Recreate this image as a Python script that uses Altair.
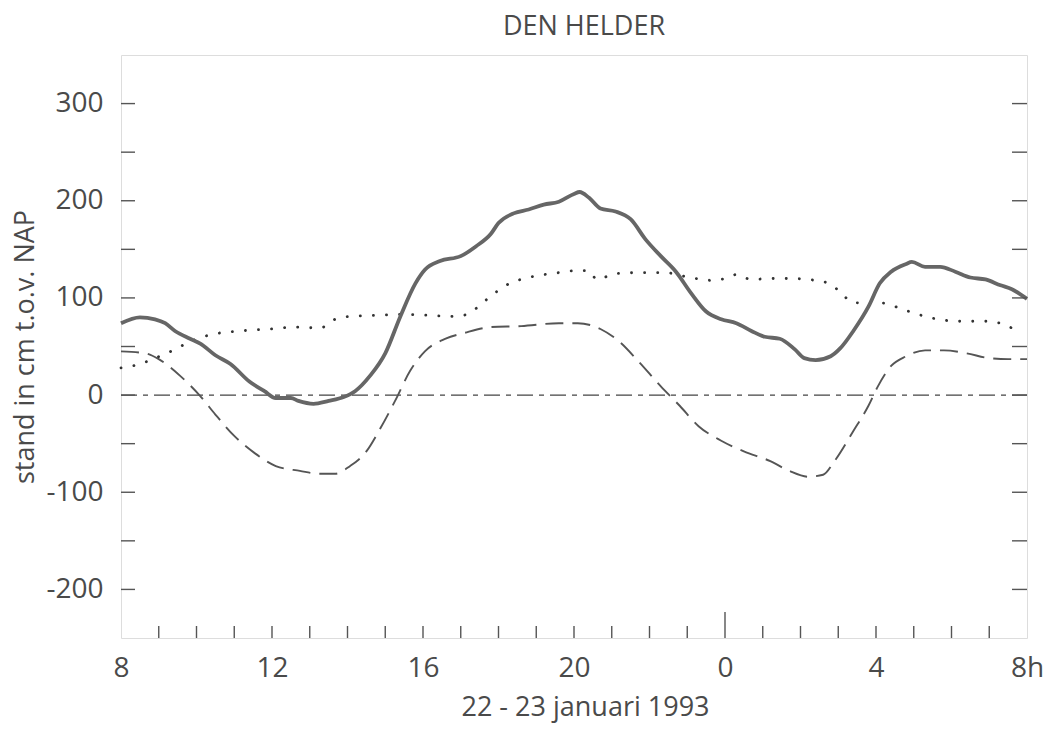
import altair as alt
import pandas as pd

# hours after 22 jan 08:00
obs_h = [0, 0.5, 0.9, 1.17, 1.43, 1.83, 2.1, 2.5, 2.9, 3.4, 3.8, 4.1, 4.5, 4.7, 5.1, 5.5, 5.9, 6.2,
         6.6, 7.0, 7.4, 7.8, 8.05, 8.45, 9.0, 9.4, 9.8, 10.0, 10.4, 10.8, 11.2, 11.6, 12.0, 12.15,
         12.4, 12.7, 13.1, 13.5, 13.9, 14.3, 14.7, 15.1, 15.5, 15.9, 16.3, 16.7, 17.05, 17.45,
         17.85, 18.1, 18.4, 18.8, 19.05, 19.4, 19.8, 20.1, 20.4, 20.8, 20.95, 21.3, 21.7, 22.1,
         22.5, 22.9, 23.3, 23.6, 24]
obs_v = [74, 80, 78, 74, 66, 58, 53, 41, 32, 14, 4, -3, -3, -6, -9, -6, -2, 4,
         20, 43, 81, 115, 129, 138, 143, 153, 166, 177, 187, 191, 196, 199, 207, 209,
         203, 192, 189, 181, 160, 143, 127, 105, 86, 78, 74, 66, 60, 58,
         47, 38, 36, 40, 48, 66, 91, 115, 127, 135, 137, 132, 132, 127,
         121, 119, 113, 109, 99]

astro_h = [0, 0.64, 1.0, 1.56, 2.1, 2.5, 3.0, 3.55, 4.1, 4.74, 5.27, 5.67, 6.07, 6.5, 6.86, 7.26,
           7.66, 8.05, 8.6, 9.1, 9.8, 10.6, 11.6, 12.1, 12.7, 13.2, 13.7, 14.3, 14.8, 15.3, 15.9,
           16.5, 17.2, 17.7, 18.2, 18.6, 18.9, 19.4, 19.8, 20.05, 20.4, 20.8, 21.3, 21.8, 22.4,
           23.0, 23.5, 24]
astro_v = [45, 43, 37, 20, -1, -20, -42, -60, -73, -78, -81, -81, -73, -58, -35, -6,
           25, 45, 58, 64, 70, 71, 74, 74, 68, 55, 35, 9, -11, -32, -47,
           -58, -68, -78, -84, -82, -68, -37, -11, 9, 30, 40, 46, 46, 43,
           38, 37, 37]

surge_h = [0, 0.5, 0.9, 1.43, 1.83, 2.36, 3.15, 3.95, 4.6, 5.27, 5.67, 6.07, 6.73, 7.4, 8.2, 8.7,
           9.06, 9.4, 9.8, 10.3, 10.8, 11.6, 12.0, 12.4, 12.6, 13.1, 13.7, 14.4, 15.07, 15.7,
           16.0, 16.3, 16.7, 17.2, 17.7, 18.4, 18.8, 19.1, 19.4, 20.1, 20.8, 21.4, 22.2, 22.9,
           23.5, 23.8]
surge_v = [28, 32, 38, 47, 55, 62, 66, 68, 70, 69, 78, 81, 82, 83, 82, 81,
           82, 89, 102, 115, 121, 126, 128, 128, 119, 125, 126, 126, 121, 118,
           120, 124, 119, 120, 120, 118, 114, 104, 95, 95, 87, 80, 76, 76,
           71, 62]

zero_h = [0, 24]
zero_v = [0, 0]

x_label_values = [0, 4, 8, 12, 16, 20, 24]
y_label_values = [-200, -100, 0, 100, 200, 300]
y_tick_values = [-200, -150, -100, -50, 0, 50, 100, 150, 200, 250, 300]
x_minor_ticks = [h for h in range(1, 24) if h != 16]
x_major_ticks = [16]

W, H = 906, 583
FONT = "Open Sans"
TXT = "#4a4a4a"
INK = "#555555"

X = alt.X("h:Q", scale=alt.Scale(domain=[0, 24], nice=False, zero=False),
          axis=alt.Axis(values=x_label_values, ticks=False, domain=False, grid=False,
                        labelExpr="datum.value == 24 ? '8h' : '' + ((datum.value + 8) % 24)",
                        labelFontSize=28, labelFont=FONT, labelColor=TXT, labelPadding=16,
                        labelFlush=False, labelOverlap=False,
                        title="22 - 23 januari 1993", titleFontSize=27, titleFont=FONT,
                        titleColor=TXT, titleFontWeight="normal", titleX=464, titleY=77,
                        titleBaseline="alphabetic", titleAlign="center"))
Y = alt.Y("v:Q", scale=alt.Scale(domain=[-250, 350], nice=False, zero=False),
          axis=alt.Axis(values=y_label_values, ticks=False, domain=False, grid=False,
                        labelExpr="'' + datum.value",
                        labelFontSize=28, labelFont=FONT, labelColor=TXT, labelPadding=18,
                        labelFlush=False, labelOverlap=False,
                        title="stand in cm t.o.v. NAP", titleFontSize=27, titleFont=FONT,
                        titleColor=TXT, titleFontWeight="normal", titleX=-96, titleY=H / 2,
                        titleAngle=270, titleBaseline="middle", titleAlign="center"))

obs = pd.DataFrame({"h": obs_h, "v": obs_v})
astro = pd.DataFrame({"h": astro_h, "v": astro_v})
surge = pd.DataFrame({"h": surge_h, "v": surge_v})
zero = pd.DataFrame({"h": zero_h, "v": zero_v})
yt = pd.DataFrame({"v": y_tick_values})
xt = pd.DataFrame({"h": x_minor_ticks})
xM = pd.DataFrame({"h": x_major_ticks})

zero_line = alt.Chart(zero).mark_line(color="#444444", strokeWidth=1.3,
                                      strokeDash=[16, 6, 5, 6]).encode(x=X, y=Y)
astro_line = alt.Chart(astro).mark_line(color=INK, strokeWidth=1.9, strokeDash=[18, 9],
                                        interpolate="monotone").encode(x=X, y=Y)
surge_line = alt.Chart(surge).mark_line(color="#333333", strokeWidth=2.8, strokeDash=[0.1, 13],
                                        strokeCap="round", interpolate="monotone").encode(x=X, y=Y)
obs_line = alt.Chart(obs).mark_line(color="#666666", strokeWidth=3.8,
                                    interpolate="monotone").encode(x=X, y=Y)

left_ticks = alt.Chart(yt).mark_rule(color=INK, strokeWidth=1.4).encode(
    y=Y, x=alt.value(0), x2=alt.value(14))
right_ticks = alt.Chart(yt).mark_rule(color=INK, strokeWidth=1.4).encode(
    y=Y, x=alt.value(W - 15), x2=alt.value(W))
bottom_ticks = alt.Chart(xt).mark_rule(color=INK, strokeWidth=1.4).encode(
    x=X, y=alt.value(H), y2=alt.value(H - 12))
midnight_tick = alt.Chart(xM).mark_rule(color=INK, strokeWidth=1.4).encode(
    x=X, y=alt.value(H), y2=alt.value(H - 26))

chart = alt.layer(
    zero_line, astro_line, surge_line, obs_line,
    left_ticks, right_ticks, bottom_ticks, midnight_tick
).properties(
    width=W, height=H,
    title=alt.TitleParams("DEN HELDER", fontSize=27, font=FONT, color=TXT,
                          fontWeight="normal", anchor="middle", offset=14, dx=10),
    autosize=alt.AutoSizeParams(type="none"),
    padding={"left": 113, "top": 47, "right": 18, "bottom": 85},
).configure_view(stroke="#555555", strokeWidth=1.6).configure(background="white")

chart.save("out.html", embed_options={"renderer": "svg", "actions": False})
